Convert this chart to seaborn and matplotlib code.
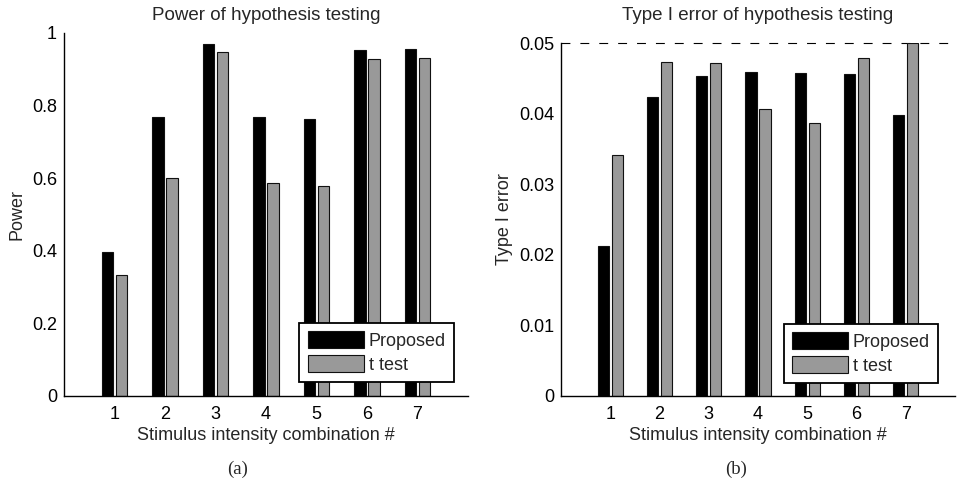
import matplotlib
matplotlib.use("Agg")
import matplotlib.pyplot as plt
from matplotlib.patches import Patch
import seaborn as sns
import pandas as pd

combos = ["1", "2", "3", "4", "5", "6", "7"]
methods = ["Proposed", "t test"]
power_proposed = [0.397, 0.768, 0.970, 0.769, 0.762, 0.953, 0.955]
power_ttest = [0.333, 0.601, 0.947, 0.587, 0.578, 0.928, 0.930]
type1_proposed = [0.0213, 0.0424, 0.0453, 0.0459, 0.0458, 0.0456, 0.0398]
type1_ttest = [0.0342, 0.0473, 0.0471, 0.0407, 0.0386, 0.0479, 0.0500]
alpha_level = 0.05

power_ticks = [0, 0.2, 0.4, 0.6, 0.8, 1]
power_ticklabels = ["0", "0.2", "0.4", "0.6", "0.8", "1"]
type1_ticks = [0, 0.01, 0.02, 0.03, 0.04, 0.05]
type1_ticklabels = ["0", "0.01", "0.02", "0.03", "0.04", "0.05"]

sns.set_theme(style="white")
plt.rcParams["font.family"] = ["Liberation Sans", "DejaVu Sans"]

colors = {"Proposed": "#000000", "t test": "#999999"}


def long_df(a, b):
    return pd.DataFrame({
        "combo": combos * 2,
        "method": [methods[0]] * len(combos) + [methods[1]] * len(combos),
        "value": list(a) + list(b),
    })


fig = plt.figure(figsize=(9.58, 4.84), dpi=100)
ax1 = fig.add_axes([64 / 958, 88 / 484, 404 / 958, 363 / 484])
ax2 = fig.add_axes([561 / 958, 88 / 484, 394 / 958, 353 / 484])


def draw(ax, df, ticks, ticklabels, ylim, ylabel, title, title_pad, leg_anchor):
    sns.barplot(data=df, x="combo", y="value", hue="method", order=combos,
                hue_order=methods, palette=colors, width=0.572, gap=0.2,
                edgecolor="#111111", linewidth=0.8, saturation=1,
                errorbar=None, legend=False, ax=ax)
    ax.set_xlim(-1, 7)
    ax.set_ylim(*ylim)
    ax.set_yticks(ticks)
    ax.set_yticklabels(ticklabels)
    for s in ["top", "right"]:
        ax.spines[s].set_visible(False)
    for s in ["left", "bottom"]:
        ax.spines[s].set_color("black")
        ax.spines[s].set_linewidth(1.0)
    ax.tick_params(direction="in", length=3, width=0.8, colors="black",
                   labelsize=13, pad=5)
    ax.tick_params(axis="x", pad=7)
    ax.set_xlabel("Stimulus intensity combination #", fontsize=13, labelpad=3)
    ax.set_ylabel(ylabel, fontsize=13, labelpad=4.5)
    ax.set_title(title, fontsize=13.5, pad=title_pad)
    handles = [Patch(facecolor=colors[m], edgecolor="#111111", linewidth=0.8)
               for m in methods]
    leg = ax.legend(handles, methods, loc="lower right", bbox_to_anchor=leg_anchor,
                    borderaxespad=0, fontsize=13, handlelength=3.1,
                    handleheight=1.05, handletextpad=0.28, labelspacing=0.3,
                    borderpad=0.45, fancybox=False, framealpha=1)
    leg.get_frame().set_edgecolor("black")
    leg.get_frame().set_linewidth(1.3)


draw(ax1, long_df(power_proposed, power_ttest), power_ticks, power_ticklabels,
     (0, 1), "Power", "Power of hypothesis testing", 9.6, (0.965, 0.039))
draw(ax2, long_df(type1_proposed, type1_ttest), type1_ticks, type1_ticklabels,
     (0, 0.05), "Type I error", "Type I error of hypothesis testing", 16.8,
     (0.957, 0.037))
ax2.axhline(alpha_level, color="black", linestyle=(0, (8, 9)), linewidth=0.8,
            clip_on=False, zorder=0)

fig.text(238 / 958, 1 - 469 / 484, "(a)", ha="center", va="center",
         fontsize=13.5, family=["Liberation Serif", "DejaVu Serif"])
fig.text(736 / 958, 1 - 469 / 484, "(b)", ha="center", va="center",
         fontsize=13.5, family=["Liberation Serif", "DejaVu Serif"])

fig.savefig("out.png", dpi=100)
